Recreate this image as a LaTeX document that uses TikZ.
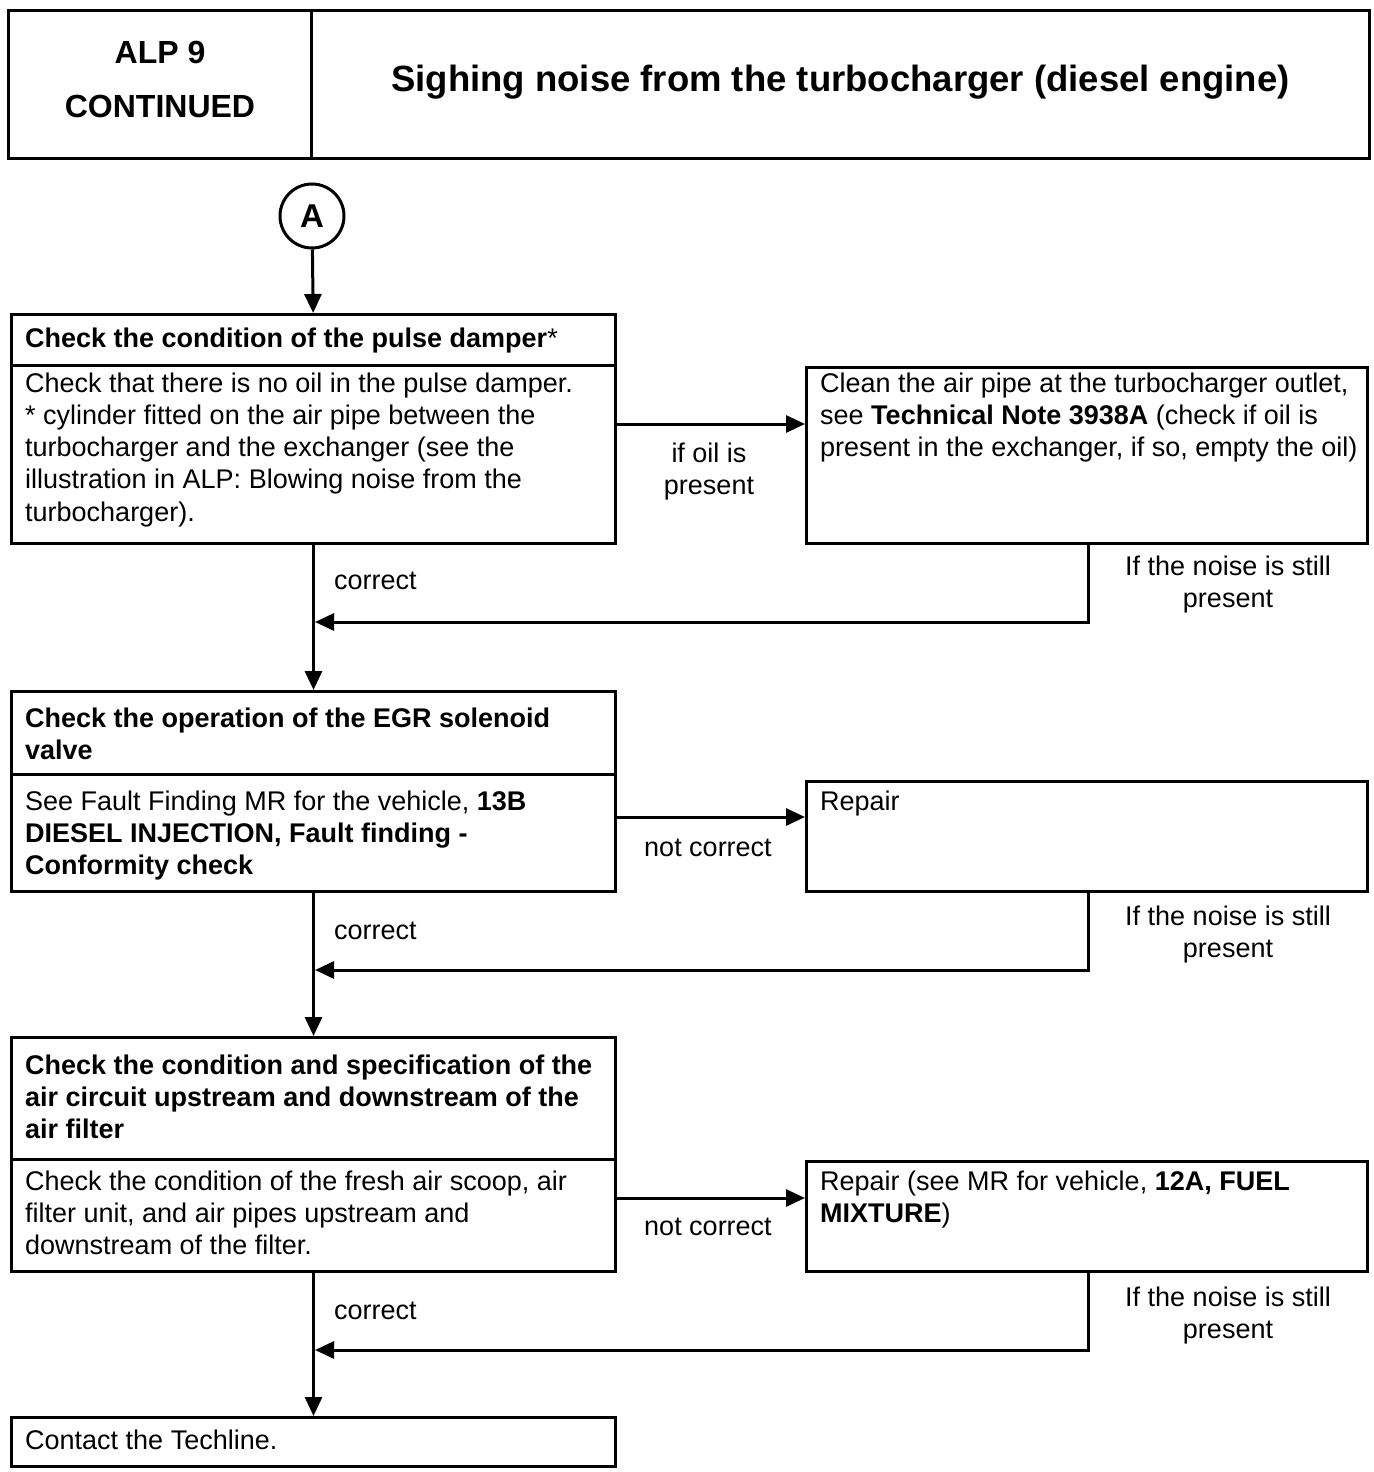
\documentclass[tikz,border=0pt]{standalone}
\usepackage{fontspec}
\setmainfont{Liberation Sans}
\usetikzlibrary{arrows.meta,calc}
\newcommand\tstrut{\rule{0pt}{24pt}}
\begin{document}
\begin{tikzpicture}[x=1pt,y=-1pt,
  frame/.style={draw, line width=3pt, rectangle, inner sep=0pt, anchor=north west},
  txt/.style={inner sep=0pt, anchor=north west, align=left, font=\fontsize{27}{32.2}\selectfont},
  btxt/.style={txt, font=\fontsize{27}{32.2}\selectfont\bfseries},
  lbl/.style={inner sep=0pt, align=center, font=\fontsize{27}{32.2}\selectfont},
  flow/.style={line width=3pt, -{Triangle[length=19pt,width=17pt]}},
]
\useasboundingbox (0,0) rectangle (1373,1472);

% header
\node[frame, minimum width=303pt, minimum height=148pt] (hl) at (7,9) {};
\node[frame, minimum width=1058pt, minimum height=148pt] (hr) at (310,9) {};
\node[inner sep=0pt, align=center, font=\fontsize{32}{54}\selectfont\bfseries]
  (alp) at ($(hl.center)+(0,-5)$) {ALP 9\\CONTINUED};
\node[inner sep=0pt, font=\fontsize{36.5}{40}\selectfont\bfseries]
  (ttl) at ($(hr.center)+(0,-2)$) {Sighing noise from the turbocharger (diesel engine)};

% entry point
\node[draw, circle, line width=3pt, minimum size=64pt, inner sep=0pt,
      font=\fontsize{33}{33}\selectfont\bfseries] (cA) at (312,216) {A};

% step 1
\node[frame, minimum width=604pt, minimum height=51pt] (t1) at (10,313) {};
\node[frame, minimum width=604pt, minimum height=178pt] (b1) at (10,364) {};
\node[frame, minimum width=561pt, minimum height=176pt] (r1) at (805,366) {};
\node[btxt] (t1x) at (25,323) {\tstrut Check the condition of the pulse damper\textmd{*}};
\node[txt] (b1x) at (25,368) {\tstrut Check that there is no oil in the pulse damper.\\
* cylinder fitted on the air pipe between the\\
turbocharger and the exchanger (see the\\
illustration in ALP: Blowing noise from the\\
turbocharger).};
\node[txt] (r1x) at (820,368) {\tstrut Clean the air pipe at the turbocharger outlet,\\
see \textbf{Technical Note 3938A} (check if oil is\\
present in the exchanger, if so, empty the oil)};
\node[lbl, anchor=north] (l1) at (709,438) {\tstrut if oil is\\present};
\node[lbl, anchor=base west] (c1) at (334,589) {correct};
\node[lbl, anchor=north] (n1) at (1228,551) {\tstrut If the noise is still\\present};

% step 2
\node[frame, minimum width=604pt, minimum height=83pt] (t2) at (10,690) {};
\node[frame, minimum width=604pt, minimum height=117pt] (b2) at (10,773) {};
\node[frame, minimum width=561pt, minimum height=110pt] (r2) at (805,780) {};
\node[btxt] (t2x) at (25,703) {\tstrut Check the operation of the EGR solenoid\\valve};
\node[txt] (b2x) at (25,786) {\tstrut See Fault Finding MR for the vehicle, \textbf{13B}\\
\textbf{DIESEL INJECTION, Fault finding -}\\
\textbf{Conformity check}};
\node[txt] (r2x) at (820,786) {\tstrut Repair};
\node[lbl, anchor=base] (l2) at (708,856) {not correct};
\node[lbl, anchor=base west] (c2) at (334,939) {correct};
\node[lbl, anchor=north] (n2) at (1228,901) {\tstrut If the noise is still\\present};

% step 3
\node[frame, minimum width=604pt, minimum height=122pt] (t3) at (10,1036) {};
\node[frame, minimum width=604pt, minimum height=112pt] (b3) at (10,1158) {};
\node[frame, minimum width=561pt, minimum height=110pt] (r3) at (805,1160) {};
\node[btxt] (t3x) at (25,1050) {\tstrut Check the condition and specification of the\\
air circuit upstream and downstream of the\\
air filter};
\node[txt] (b3x) at (25,1166) {\tstrut Check the condition of the fresh air scoop, air\\
filter unit, and air pipes upstream and\\
downstream of the filter.};
\node[txt] (r3x) at (820,1166) {\tstrut Repair (see MR for vehicle, \textbf{12A, FUEL}\\
\textbf{MIXTURE})};
\node[lbl, anchor=base] (l3) at (708,1235) {not correct};
\node[lbl, anchor=base west] (c3) at (334,1319) {correct};
\node[lbl, anchor=north] (n3) at (1228,1282) {\tstrut If the noise is still\\present};

% last step
\node[frame, minimum width=604pt, minimum height=49pt] (b4) at (10,1416) {};
\node[txt] (b4x) at (25,1425) {\tstrut Contact the Techline.};

% turning points of the return lines
\coordinate (y1) at (0,424);
\coordinate (y2) at (0,817);
\coordinate (y3) at (0,1198);
\coordinate (k1) at (1088,622);
\coordinate (k2) at (1088,970);
\coordinate (k3) at (1088,1350);

% main path
\draw[flow] (cA) -- (t1);
\draw[flow] (b1) -- (t2);
\draw[flow] (b2) -- (t3);
\draw[flow] (b3) -- (b4);

% side branches
\draw[flow] (b1.east |- y1) -- (r1.west |- y1);
\draw[flow] (b2.east |- y2) -- (r2.west |- y2);
\draw[flow] (b3.east |- y3) -- (r3.west |- y3);

% return lines
\draw[flow, shorten >=1.5pt] (r1.south -| k1) -- (k1) -- (k1 -| b1.south);
\draw[flow, shorten >=1.5pt] (r2.south -| k2) -- (k2) -- (k2 -| b2.south);
\draw[flow, shorten >=1.5pt] (r3.south -| k3) -- (k3) -- (k3 -| b3.south);
\end{tikzpicture}
\end{document}
